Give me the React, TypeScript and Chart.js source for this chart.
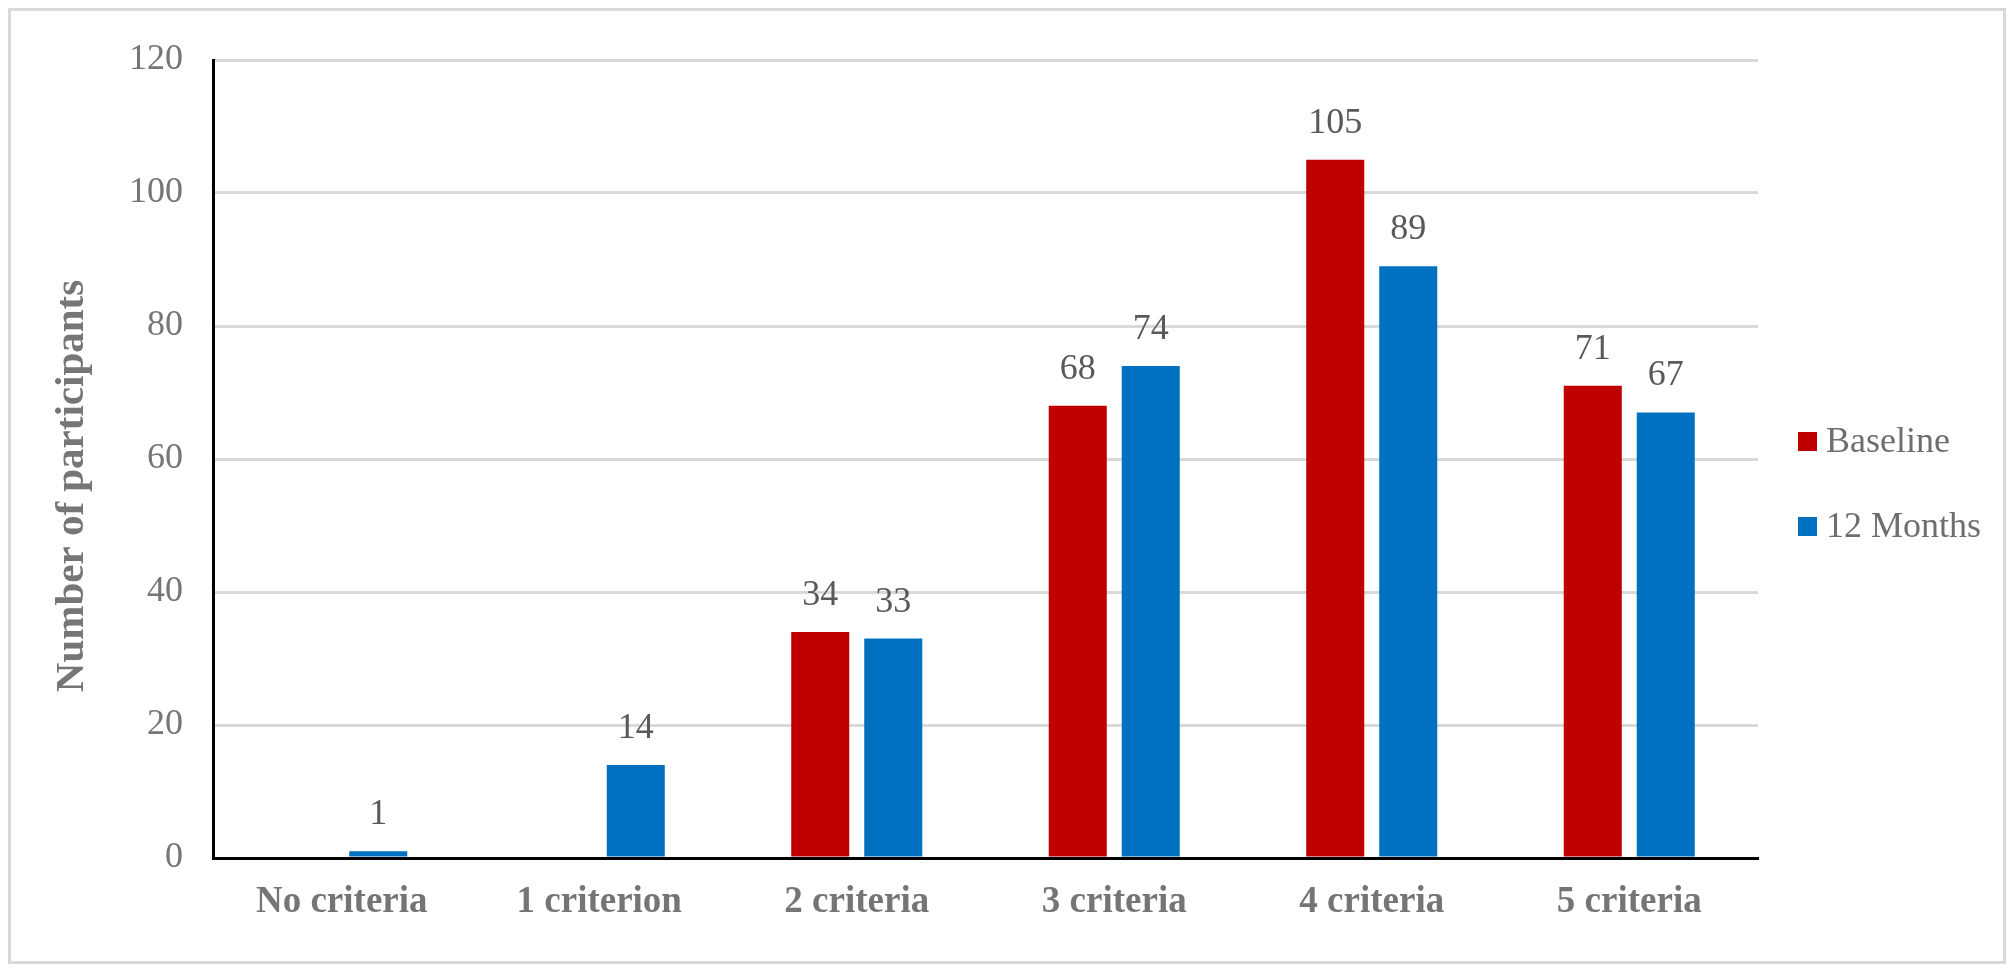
import React, { useEffect, useRef } from "react";
import { Chart, registerables } from "chart.js";

Chart.register(...registerables);

const categories = ["No criteria", "1 criterion", "2 criteria", "3 criteria", "4 criteria", "5 criteria"];
const baselineValues: (number | null)[] = [null, null, 34, 68, 105, 71];
const monthsValues: (number | null)[] = [1, 14, 33, 74, 89, 67];
const seriesNames = ["Baseline", "12 Months"];
const seriesColors = ["#C00000", "#0070C0"];
const yTitle = "Number of participants";
const yMax = 120;
const yStep = 20;

const FONT = '"Liberation Serif", "Times New Roman", serif';

const W = 1998;
const H = 956;

const dataLabelPlugin = {
  id: "dataLabels",
  afterDatasetsDraw(chart: any) {
    const ctx = chart.ctx;
    ctx.save();
    ctx.font = `36px ${FONT}`;
    ctx.fillStyle = "#595959";
    ctx.textAlign = "center";
    ctx.textBaseline = "alphabetic";
    chart.data.datasets.forEach((ds: any, i: number) => {
      const meta = chart.getDatasetMeta(i);
      meta.data.forEach((el: any, j: number) => {
        const v = ds.data[j];
        if (v === null || v === undefined) return;
        ctx.fillText(String(v), el.x, el.y - 27);
      });
    });
    ctx.restore();
  },
};

const extrasPlugin = {
  id: "extras",
  afterDraw(chart: any) {
    const ctx = chart.ctx;
    const area = chart.chartArea;
    // y axis title
    ctx.save();
    ctx.translate(64, 478);
    ctx.rotate(-Math.PI / 2);
    ctx.font = `bold 41px ${FONT}`;
    ctx.fillStyle = "#767676";
    ctx.textAlign = "center";
    ctx.textBaseline = "middle";
    ctx.fillText(yTitle, 0, 0);
    ctx.restore();
    // legend
    ctx.save();
    ctx.font = `36px ${FONT}`;
    ctx.textAlign = "left";
    ctx.textBaseline = "middle";
    const lx = area.right + 40;
    const ys = [434, 519];
    chart.data.datasets.forEach((ds: any, i: number) => {
      const cy = ys[i];
      ctx.fillStyle = ds.backgroundColor;
      ctx.fillRect(lx, cy - 10, 19, 19);
      ctx.fillStyle = "#6e6e6e";
      ctx.fillText(ds.label, lx + 28, cy + 1);
    });
    ctx.restore();
  },
};

export default function App() {
  const ref = useRef<HTMLCanvasElement | null>(null);
  useEffect(() => {
    if (!ref.current) return;
    const chart = new Chart(ref.current, {
      type: "bar",
      data: {
        labels: categories,
        datasets: [
          {
            label: seriesNames[0],
            data: baselineValues,
            backgroundColor: seriesColors[0],
            categoryPercentage: 0.567,
            barPercentage: 0.795,
          },
          {
            label: seriesNames[1],
            data: monthsValues,
            backgroundColor: seriesColors[1],
            categoryPercentage: 0.567,
            barPercentage: 0.795,
          },
        ],
      },
      options: {
        responsive: false,
        animation: false,
        devicePixelRatio: 1,
        layout: { padding: { left: 0, top: 52, right: 248, bottom: 0 } },
        plugins: {
          legend: { display: false },
          tooltip: { enabled: false },
        },
        scales: {
          x: {
            grid: { display: false, drawTicks: false },
            border: { display: true, color: "#000000", width: 3 },
            ticks: {
              color: "#757575",
              font: { family: FONT, size: 37, weight: "bold" },
              padding: 22,
              maxRotation: 0,
              autoSkip: false,
            },
            afterFit(scale: any) {
              scale.height = 106;
            },
          },
          y: {
            min: 0,
            max: yMax,
            ticks: {
              stepSize: yStep,
              color: "#767676",
              font: { family: FONT, size: 36 },
              padding: 30,
            },
            grid: { color: "#D9D9D9", lineWidth: 3, drawTicks: false },
            border: { display: true, color: "#000000", width: 3 },
            afterFit(scale: any) {
              scale.width = 205;
            },
          },
        },
      },
      plugins: [dataLabelPlugin, extrasPlugin],
    });
    return () => chart.destroy();
  }, []);

  return (
    <div style={{ position: "relative", width: W, height: H }}>
      <canvas ref={ref} width={W} height={H} style={{ display: "block", width: W, height: H }} />
      <div
        style={{
          position: "absolute",
          left: 0,
          top: 0,
          width: W,
          height: H,
          border: "3px solid #D9D9D9",
          boxSizing: "border-box",
          pointerEvents: "none",
        }}
      />
    </div>
  );
}
